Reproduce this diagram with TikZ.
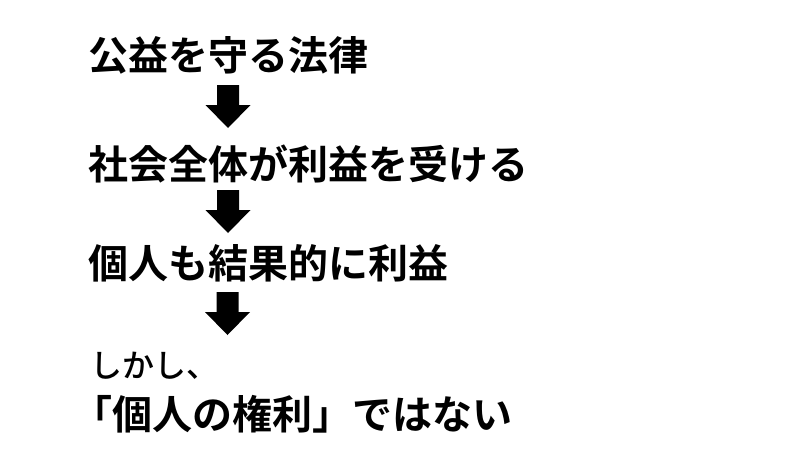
\documentclass[tikz,border=0pt]{standalone}
\usepackage{fontspec}
\newfontfamily\jpb{Noto Sans CJK JP Bold}
\newfontfamily\jpm{Noto Sans CJK JP Medium}
\tikzset{
  boldline/.style={anchor=base west, inner sep=0pt, font=\jpb\fontsize{40}{40}\selectfont},
  smallline/.style={anchor=base west, inner sep=0pt, font=\jpm\fontsize{32}{32}\selectfont},
  darrow/.pic={\fill[black] (-11,0) -- (11,0) -- (11,20) -- (22.5,20) -- (0,43) -- (-22.5,20) -- (-11,20) -- cycle;}
}
\begin{document}
\begin{tikzpicture}[x=1pt,y=-1pt]
\useasboundingbox[fill=white] (0,0) rectangle (800,450);
\node[boldline] (l1) at (88.5,70) {公益を守る法律};
\node[boldline] (l2) at (88.5,179.5) {社会全体が利益を受ける};
\node[boldline] (l3) at (88.5,278) {個人も結果的に利益};
\node[smallline] (l4) at (90,377) {しかし、};
\node[boldline] (l5) at (72,429) {「個人の権利」ではない};
\pic (a1) at (228,85) {darrow};
\pic (a2) at (228,190) {darrow};
\pic (a3) at (227.5,292) {darrow};
\end{tikzpicture}
\end{document}
